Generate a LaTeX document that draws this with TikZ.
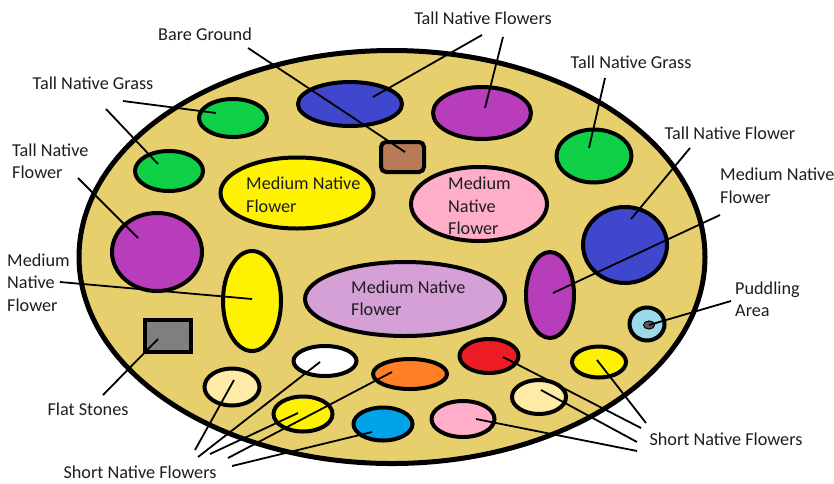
\documentclass[tikz,border=0pt]{standalone}
\usepackage{fontspec}
\setmainfont{Carlito}
\usepackage{tikz}
\usetikzlibrary{shapes.geometric, positioning}
\definecolor{soil}{RGB}{231,207,110}
\definecolor{grass}{RGB}{16,208,72}
\definecolor{royal}{RGB}{63,72,204}
\definecolor{violet}{RGB}{184,61,186}
\definecolor{bark}{RGB}{185,122,87}
\definecolor{sun}{RGB}{255,242,0}
\definecolor{rose}{RGB}{255,174,201}
\definecolor{lilac}{RGB}{213,160,213}
\definecolor{slate}{RGB}{127,127,127}
\definecolor{pool}{RGB}{153,217,234}
\definecolor{cream}{RGB}{255,235,168}
\definecolor{tangerine}{RGB}{255,127,39}
\definecolor{scarlet}{RGB}{237,28,36}
\definecolor{sky}{RGB}{0,162,232}
\definecolor{ink}{RGB}{30,30,30}
\tikzset{
  bed/.style={ellipse, draw=black, line width=4pt, inner sep=0pt},
  stone/.style={rectangle, draw=black, line width=4pt, inner sep=0pt},
  lbl/.style={font=\fontsize{18.2}{22.5}\selectfont, text=ink, inner sep=0pt, align=left},
  lead/.style={draw=black, line width=1.8pt}
}
\begin{document}
\begin{tikzpicture}[x=1pt, y=-1pt]
  \useasboundingbox[fill=white] (0,0) rectangle (834,483);
  \node[bed, fill=soil, line width=5pt, minimum width=626pt, minimum height=413pt] (garden) at (392,257) {};
  \node[bed, fill=grass, minimum width=68pt, minimum height=38pt] (grassA) at (233,118) {};
  \node[bed, fill=grass, minimum width=68pt, minimum height=40pt] (grassB) at (169,171) {};
  \node[bed, fill=grass, minimum width=75pt, minimum height=53pt] (grassC) at (594,156) {};
  \node[bed, fill=royal, minimum width=104pt, minimum height=44pt] (blueA) at (350,104) {};
  \node[bed, fill=royal, minimum width=84pt, minimum height=76pt] (blueB) at (625,245) {};
  \node[bed, fill=violet, minimum width=98pt, minimum height=52pt] (purpleA) at (482,113) {};
  \node[bed, fill=violet, minimum width=90pt, minimum height=78pt] (purpleB) at (157,252) {};
  \node[bed, fill=violet, minimum width=48pt, minimum height=86pt] (purpleC) at (550,295) {};
  \node[stone, fill=bark, rounded corners=5pt, minimum width=43pt, minimum height=30pt] (bare) at (402.5,157) {};
  \node[bed, fill=sun, minimum width=153pt, minimum height=71pt] (yellowmed) at (297,193) {};
  \node[bed, fill=rose, minimum width=136pt, minimum height=74pt] (pinkmed) at (479,204) {};
  \node[bed, fill=sun, minimum width=58pt, minimum height=100pt] (yellowtall) at (252,301) {};
  \node[bed, fill=lilac, minimum width=200pt, minimum height=74pt] (lilacmed) at (405,299) {};
  \node[stone, fill=slate, minimum width=46pt, minimum height=32pt] (stones) at (168,336) {};
  \node[bed, fill=pool, minimum width=35pt, minimum height=33pt] (puddle) at (647,324) {};
  \node[bed, fill=black!65, line width=1pt, minimum width=11pt, minimum height=8pt] (mud) at (649,325) {};
  \node[bed, fill=cream, minimum width=55pt, minimum height=37pt] (paleA) at (232,387) {};
  \node[bed, fill=white, minimum width=63pt, minimum height=30pt] (whiteS) at (325,361) {};
  \node[bed, fill=tangerine, minimum width=74pt, minimum height=30pt] (orangeS) at (410,374) {};
  \node[bed, fill=scarlet, minimum width=59pt, minimum height=34pt] (redS) at (489,356) {};
  \node[bed, fill=sun, minimum width=54pt, minimum height=31pt] (yellowS) at (599,362) {};
  \node[bed, fill=sun, minimum width=59pt, minimum height=35pt] (yellowB) at (303,414) {};
  \node[bed, fill=sky, minimum width=59pt, minimum height=33pt] (skyS) at (383,424) {};
  \node[bed, fill=rose, minimum width=63pt, minimum height=36pt] (pinkS) at (463,419) {};
  \node[bed, fill=cream, minimum width=54pt, minimum height=34pt] (paleB) at (539,397) {};

  \node[lbl, anchor=west] (yellowtxt) at (246,194.5) {Medium Native\\Flower};
  \node[lbl, anchor=west] (pinktxt) at (448,206) {Medium\\Native\\Flower};
  \node[lbl, anchor=west] (lilactxt) at (351,298) {Medium Native\\Flower};

  \node[lbl] (barelbl) at (205,34) {Bare Ground};
  \node[lbl] (tallflowers) at (483,18) {Tall Native Flowers};
  \node[lbl] (grassL) at (93,83) {Tall Native Grass};
  \node[lbl] (grassR) at (631,62) {Tall Native Grass};
  \node[lbl, anchor=west] (flowerL) at (12,161) {Tall Native\\Flower};
  \node[lbl] (flowerR) at (730,133) {Tall Native Flower};
  \node[lbl, anchor=west] (mediumR) at (720,185.5) {Medium Native\\Flower};
  \node[lbl, anchor=west] (mediumL) at (7,282.5) {Medium\\Native\\Flower};
  \node[lbl, anchor=west] (puddlelbl) at (735,299) {Puddling\\Area};
  \node[lbl] (stoneslbl) at (88,409) {Flat Stones};
  \node[lbl] (shortL) at (140,472) {Short Native Flowers};
  \node[lbl] (shortR) at (726,439) {Short Native Flowers};

  \coordinate (bareend) at (248,48);
  \coordinate (tfA) at (482,35);
  \coordinate (tfB) at (503,37);
  \coordinate (tgA) at (123,101);
  \coordinate (tgB) at (106,109);
  \coordinate (tflL) at (78,178);
  \coordinate (tgR) at (605,78);
  \coordinate (tflR) at (690,148);
  \coordinate (mnR) at (720,215);
  \coordinate (mnL) at (60,282);
  \coordinate (pud) at (731,301);
  \coordinate (flat) at (103,395);
  \coordinate (sL1) at (195,450);
  \coordinate (sL2) at (198,457);
  \coordinate (sL3) at (210,454);
  \coordinate (sL4) at (228,458);
  \coordinate (sL5) at (232,466);
  \coordinate (sR1) at (646,423);
  \coordinate (sR2) at (641,428);
  \coordinate (sR3) at (637,442);
  \coordinate (sR4) at (637,451);

  \draw[lead] (bareend) -- ([shift={(2.5,-5)}]bare.center);
  \draw[lead] (tfA) -- ([shift={(23,-7)}]blueA.center);
  \draw[lead] (tfB) -- ([shift={(3,-5)}]purpleA.center);
  \draw[lead] (tgA) -- ([shift={(-17,-5)}]grassA.center);
  \draw[lead] (tgB) -- ([shift={(-11,-7)}]grassB.center);
  \draw[lead] (tflL) -- ([shift={(-19,-14)}]purpleB.center);
  \draw[lead] (tgR) -- ([shift={(-5,-8)}]grassC.center);
  \draw[lead] (tflR) -- ([shift={(6,-26)}]blueB.center);
  \draw[lead] (mnR) -- ([shift={(3,-2)}]purpleC.center);
  \draw[lead] (mnL) -- ([shift={(0,-2)}]yellowtall.center);
  \draw[lead] (pud) -- (mud.center);
  \draw[lead] (flat) -- ([shift={(-10,3)}]stones.center);
  \draw[lead] (sL1) -- ([shift={(2,-7)}]paleA.center);
  \draw[lead] (sL2) -- ([shift={(-5,1)}]whiteS.center);
  \draw[lead] (sL3) -- ([shift={(-5,-1)}]yellowB.center);
  \draw[lead] (sL4) -- ([shift={(-18,-2)}]orangeS.center);
  \draw[lead] (sL5) -- ([shift={(-11,8)}]skyS.center);
  \draw[lead] (sR1) -- ([shift={(-2,-2)}]yellowS.center);
  \draw[lead] (sR2) -- ([shift={(14,1)}]redS.center);
  \draw[lead] (sR3) -- ([shift={(2,-7)}]paleB.center);
  \draw[lead] (sR4) -- ([shift={(13,0)}]pinkS.center);
\end{tikzpicture}
\end{document}
